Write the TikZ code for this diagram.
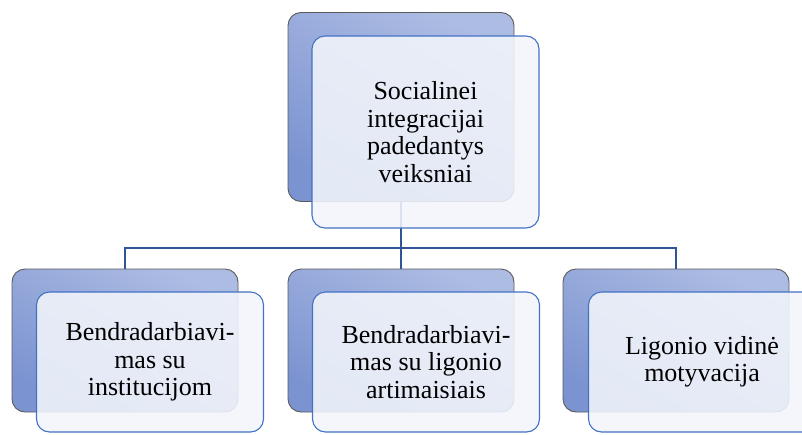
\documentclass[tikz,border=0pt]{standalone}
\usepackage{fontspec}
\setmainfont{Liberation Serif}
\definecolor{backlo}{HTML}{7B93D0}
\definecolor{backhi}{HTML}{ADBCE3}
\definecolor{backedge}{HTML}{5A5A5A}
\definecolor{frontfill}{HTML}{F2F5FB}
\definecolor{frontedge}{HTML}{4472C4}
\definecolor{linkblue}{HTML}{2F5597}
\tikzset{
  backbox/.style={draw=backedge, line width=0.9pt, rounded corners=13pt,
    top color=backhi, bottom color=backlo, shading angle=-30,
    minimum width=226pt, minimum height=#1, inner sep=0pt},
  frontbox/.style={draw=frontedge, line width=1.1pt, rounded corners=13pt,
    fill=frontfill, fill opacity=0.88, text opacity=1, text=black,
    minimum width=227pt, minimum height=#1, inner sep=0pt, align=center,
    font=\fontsize{26}{27.5}\selectfont},
  link/.style={draw=linkblue, line width=2pt, line join=miter}
}
\begin{document}
\begin{tikzpicture}[x=1pt,y=-1pt]
\useasboundingbox (0,0) rectangle (802,434);
\clip (0,0) rectangle (802,434);
% rear shaded cards
\node[backbox=189pt] (topback) at (401,107) {};
\node[backbox=143pt] (leftback) at (125,340.5) {};
\node[backbox=143pt] (midback) at (401,340.5) {};
\node[backbox=143pt] (rightback) at (676,340.5) {};
% hierarchy connectors
\coordinate (hub) at (401,248);
\draw[link] (topback.south) -- (hub);
\draw[link] (leftback.north) |- (hub) -| (rightback.north);
\draw[link] (hub) -- (midback.north);
% front text cards
\node[frontbox=192pt] (topfront) at (425.5,132) {Socialinei\\integracijai\\padedantys\\veiksniai};
\node[frontbox=140pt] (leftfront) at (150,362) {Bendradarbiavi-\\mas su\\institucijom};
\node[frontbox=140pt] (midfront) at (426,362) {Bendradarbiavi-\\mas su ligonio\\artimaisiais};
\node[frontbox=140pt] (rightfront) at (702,362) {Ligonio vidinė\\motyvacija};
\end{tikzpicture}
\end{document}
